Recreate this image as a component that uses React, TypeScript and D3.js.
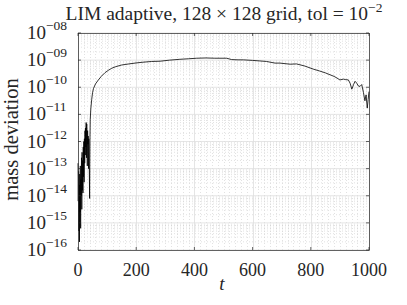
import React from "react";
import * as d3 from "d3";

// time samples and log10 of the mass deviation
const tValues = [0, 1, 2, 3, 4, 5, 6, 7, 8, 9, 10, 11, 12, 13, 14, 15, 16, 17, 18, 19, 20, 21, 22, 23, 24, 25, 26, 27, 28, 29, 30, 31, 32, 33, 34, 35, 36, 37, 38, 39, 40, 41, 42, 44, 47, 50, 53, 60, 70, 80, 93, 105, 116, 130, 150, 175, 196, 220, 253, 282, 315, 350, 380, 408, 440, 470, 511, 528, 550, 568, 600, 625, 648, 677, 694, 729, 751, 780, 808, 830, 850, 866, 880, 890, 900, 912, 920, 929, 935, 941, 947, 952, 958, 963, 969, 975, 981, 986, 990, 994, 997, 1000];
const massDevExp = [-12.8, -14.2, -13.1, -15.3, -13.6, -15.7, -13.2, -14.6, -12.9, -15.2, -13.4, -14.0, -12.6, -14.5, -12.4, -13.8, -12.7, -13.9, -12.2, -13.3, -12.0, -13.5, -11.9, -12.8, -11.6, -12.5, -11.5, -12.2, -11.3, -12.6, -11.35, -11.8, -12.9, -11.6, -12.1, -11.8, -13.0, -11.9, -12.2, -13.2, -14.1, -12.0, -11.2, -10.8, -10.46, -10.2, -10.05, -9.88, -9.73, -9.6, -9.46, -9.37, -9.3, -9.24, -9.18, -9.14, -9.11, -9.08, -9.05, -9.04, -9.0, -8.97, -8.95, -8.93, -8.92, -8.93, -8.93, -8.98, -8.99, -8.99, -9.01, -9.03, -9.05, -9.11, -9.11, -9.15, -9.14, -9.22, -9.33, -9.4, -9.47, -9.54, -9.6, -9.66, -9.73, -9.7, -9.72, -9.73, -9.85, -10.07, -9.9, -9.78, -9.85, -9.95, -9.97, -9.9, -10.2, -10.5, -10.28, -10.77, -10.46, -10.16];

const xTicks = [0, 200, 400, 600, 800, 1000];
const yTickExps = [-8, -9, -10, -11, -12, -13, -14, -15, -16];
const titleText = "LIM adaptive, 128 × 128 grid, tol = 10";
const titleExp = "−2";
const xLabel = "t";
const yLabel = "mass deviation";

const W = 407, H = 305;
const M = { left: 78, right: 369, top: 33, bottom: 250 };
const FONT = "'Liberation Serif', serif";
const AX = "#262626";

export default function App() {
  const x = d3.scaleLinear().domain([0, 1000]).range([M.left, M.right]);
  const y = d3.scaleLog().domain([1e-16, 1e-8]).range([M.bottom, M.top]);
  const data = tValues.map((t, i) => ({ t, v: Math.pow(10, massDevExp[i]) }));
  const line = d3.line<{ t: number; v: number }>().x(d => x(d.t)).y(d => y(d.v));

  const xMinor = d3.range(0, 1001, 20).filter(v => v % 200 !== 0);
  const yMinor: number[] = [];
  for (let e = -16; e < -8; e++) for (let k = 2; k <= 9; k++) yMinor.push(k * Math.pow(10, e));

  return (
    <svg width={W} height={H} style={{ position: "absolute", left: 0, top: 0, background: "#fff" }}>
      <rect x={0} y={0} width={W} height={H} fill="#fff" />
      {/* minor grid */}
      {xMinor.map(v => (
        <line key={"xm" + v} x1={Math.round(x(v)) + 0.5} x2={Math.round(x(v)) + 0.5} y1={M.top} y2={M.bottom} stroke="#cfcfcf" strokeWidth={0.6} strokeDasharray="1,2" />
      ))}
      {yMinor.map((v, i) => (
        <line key={"ym" + i} x1={M.left} x2={M.right} y1={y(v)} y2={y(v)} stroke="#cfcfcf" strokeWidth={0.6} strokeDasharray="1,2" />
      ))}
      {/* major grid */}
      {xTicks.map(v => (
        <line key={"xg" + v} x1={Math.round(x(v)) + 0.5} x2={Math.round(x(v)) + 0.5} y1={M.top} y2={M.bottom} stroke="#dedede" strokeWidth={0.8} />
      ))}
      {yTickExps.map(e => (
        <line key={"yg" + e} x1={M.left} x2={M.right} y1={y(Math.pow(10, e))} y2={y(Math.pow(10, e))} stroke="#dedede" strokeWidth={0.8} />
      ))}
      {/* data */}
      <path d={line(data) || ""} fill="none" stroke="#000" strokeWidth={0.8} strokeLinejoin="round" />
      {/* box */}
      <rect x={M.left + 0.5} y={M.top + 0.5} width={M.right - M.left} height={M.bottom - M.top} fill="none" stroke={AX} strokeWidth={0.7} />
      {/* ticks */}
      {xTicks.map(v => (
        <g key={"xt" + v}>
          <line x1={x(v)} x2={x(v)} y1={M.bottom} y2={M.bottom - 3} stroke={AX} strokeWidth={0.7} />
          <line x1={x(v)} x2={x(v)} y1={M.top} y2={M.top + 3} stroke={AX} strokeWidth={0.7} />
          <text x={x(v)} y={M.bottom + 26} textAnchor="middle" fontFamily={FONT} fontSize={18} fill={AX}>{v}</text>
        </g>
      ))}
      {yTickExps.map(e => {
        const yy = y(Math.pow(10, e));
        const lbl = "−" + String(Math.abs(e)).padStart(2, "0");
        return (
          <g key={"yt" + e}>
            <line x1={M.left} x2={M.left + 3} y1={yy} y2={yy} stroke={AX} strokeWidth={0.7} />
            <line x1={M.right} x2={M.right - 3} y1={yy} y2={yy} stroke={AX} strokeWidth={0.7} />
            <text x={46} y={yy + 6} textAnchor="end" fontFamily={FONT} fontSize={19} fill={AX}>10</text>
            <text x={46} y={yy - 3} textAnchor="start" fontFamily={FONT} fontSize={13.5} fill={AX}>{lbl}</text>
          </g>
        );
      })}
      {/* labels */}
      <text x={222} y={290} textAnchor="middle" fontFamily={FONT} fontStyle="italic" fontSize={19} fill={AX}>{xLabel}</text>
      <text transform={`translate(18,${(M.top + M.bottom) / 2 - 2}) rotate(-90)`} textAnchor="middle" fontFamily={FONT} fontSize={20.5} fill={AX}>{yLabel}</text>
      <text x={224} y={20} textAnchor="middle" fontFamily={FONT} fontSize={19.5} fill={AX}>
        {titleText}
        <tspan fontSize={13.5} dy={-8}>{titleExp}</tspan>
      </text>
    </svg>
  );
}
